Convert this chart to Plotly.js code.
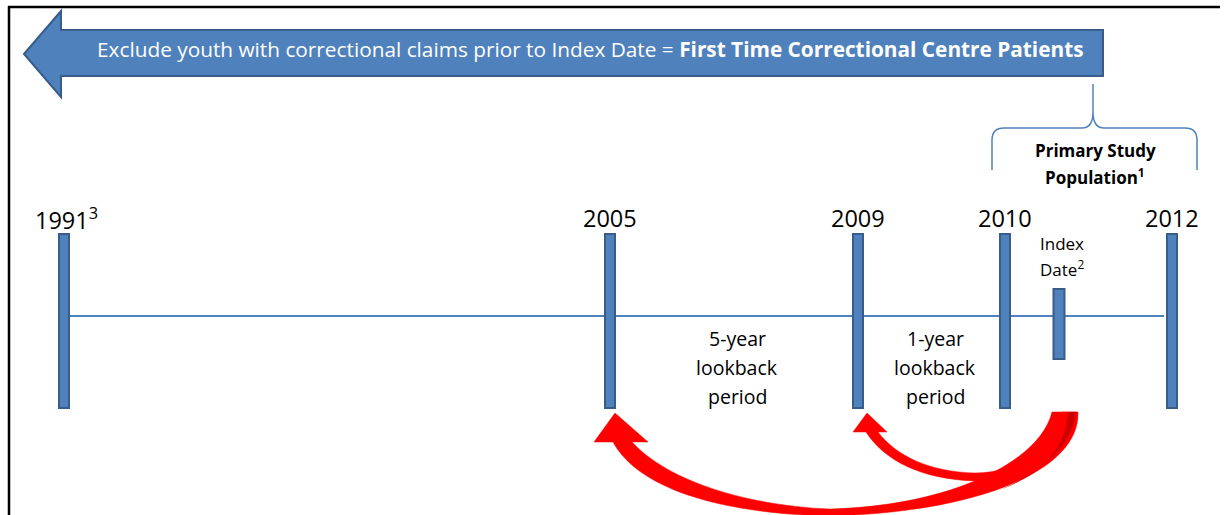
<!DOCTYPE html>
<html>
<head>
<meta charset="utf-8">
<script src="https://cdn.plot.ly/plotly-3.0.1.min.js"></script>
<style>html,body{margin:0;padding:0;background:#fff;}#chart{width:1224px;height:515px;}</style>
</head>
<body>
<div id="chart"></div>
<script>
// Timeline content
const yearLabels = ['1991<sup>3</sup>', '2005', '2009', '2010', '2012'];
const yearSlots = [64, 610, 858, 1005, 1172];           // horizontal slot of each year marker
const periodLines = [['5-year', 'lookback', 'period'], ['1-year', 'lookback', 'period']];
const periodSlots = [737, 935];
const indexLines = ['Index', 'Date<sup>2</sup>'];
const indexSlot = 1059;
const populationLines = ['<b>Primary Study</b>', '<b>Population<sup>1</sup></b>'];
const exclusionText = 'Exclude youth with correctional claims prior to Index Date = <b>First Time Correctional Centre Patients</b>';

const BLUE = '#4F81BD', DARK = '#385D8A', RED = '#FF0000';
const FONT = 'Open Sans, DejaVu Sans, sans-serif';

const shapes = [];
const annotations = [];
function label(x, y, text, size) {
  annotations.push({xref:'x', yref:'y', x:x, y:y, text:text, showarrow:false,
    font:{family:FONT, size:size, color:'#000'}, xanchor:'center', yanchor:'middle'});
}

// frame
shapes.push({type:'line', xref:'x', yref:'y', x0:8, x1:1220, y0:7, y1:7, line:{color:'#000', width:2.5}});
shapes.push({type:'line', xref:'x', yref:'y', x0:9, x1:9, y0:6, y1:515, line:{color:'#000', width:2.5}});

// big blue arrow
shapes.push({type:'path', xref:'x', yref:'y',
  path:'M 24,54 L 61,11 L 61,30 L 1103,30 L 1103,76 L 61,76 L 61,97 Z',
  fillcolor:BLUE, line:{color:DARK, width:2}});
annotations.push({xref:'x', yref:'y', x:590, y:49, text:exclusionText, showarrow:false,
  font:{family:FONT, size:20.8, color:'#fff'}, xanchor:'center', yanchor:'middle'});

// brace
shapes.push({type:'path', xref:'x', yref:'y',
  path:'M 992,170 L 992,140 Q 992,128 1004,128 L 1082,128 Q 1093,128 1093,112 Q 1093,128 1104,128 L 1185,128 Q 1197,128 1197,140 L 1197,170',
  line:{color:BLUE, width:1.5}});
shapes.push({type:'line', xref:'x', yref:'y', x0:1093, x1:1093, y0:84, y1:112, line:{color:BLUE, width:1.5}});
label(1095, 150, populationLines[0], 17);
label(1095, 176, populationLines[1], 17);

// timeline base line
shapes.push({type:'line', xref:'x', yref:'y', x0:yearSlots[0], x1:1164, y0:316, y1:316, line:{color:BLUE, width:2}});

// year markers
yearLabels.forEach((lab, i) => {
  const x = yearSlots[i];
  shapes.push({type:'rect', xref:'x', yref:'y', x0:x-5, x1:x+5, y0:234, y1:408,
    fillcolor:BLUE, line:{color:DARK, width:2}});
  label(i === 0 ? x + 2 : x, 218, lab, 23.5);
});

// index date marker
shapes.push({type:'rect', xref:'x', yref:'y', x0:indexSlot-5.5, x1:indexSlot+5.5, y0:289, y1:359,
  fillcolor:BLUE, line:{color:DARK, width:2}});
label(1062, 243, indexLines[0], 17);
label(1062, 268, indexLines[1], 17);

// period labels
periodLines.forEach((lines, i) => {
  lines.forEach((t, j) => label(periodSlots[i], 338 + j * 29, t, 19.5));
});

// red curved arrows
shapes.push({type:'path', xref:'x', yref:'y',
  path:'M 1078,412 C 1080,470 980,512 830,516 C 730,514 640,492 613,442 L 594,442 L 615,413 L 648,442 L 632,442 C 668,482 750,506 830,509 C 950,506 1040,462 1052,412 Z',
  fillcolor:RED, line:{color:RED, width:0.5}});
shapes.push({type:'path', xref:'x', yref:'y',
  path:'M 1076,412 C 1072,460 1022,482 975,481 C 920,479 884,460 866,432 L 853,432 L 867,413 L 887,432 L 878,432 C 896,456 930,472 975,473 C 1020,473 1052,446 1062,412 Z',
  fillcolor:RED, line:{color:RED, width:0.5}});
shapes.push({type:'path', xref:'x', yref:'y',
  path:'M 1068,412 C 1066,450 1040,475 1000,490 C 1045,470 1072,445 1076,412 Z',
  fillcolor:'#CC0000', line:{width:0}});

const layout = {
  width:1224, height:515,
  margin:{l:0, r:0, t:0, b:0},
  paper_bgcolor:'#fff', plot_bgcolor:'#fff',
  xaxis:{range:[0,1224], visible:false, fixedrange:true},
  yaxis:{range:[515,0], visible:false, fixedrange:true},
  shapes:shapes, annotations:annotations, showlegend:false
};
Plotly.newPlot('chart', [], layout, {staticPlot:true});
</script>
</body>
</html>
